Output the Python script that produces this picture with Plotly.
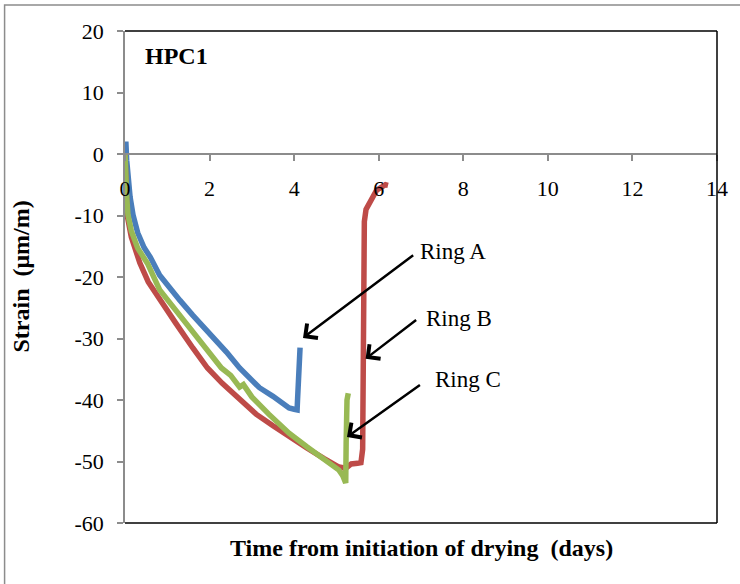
import plotly.graph_objects as go

# Ring A (blue)
ring_a_x = [0, 0.02, 0.04, 0.08, 0.12, 0.19, 0.3, 0.45, 0.6, 0.82, 1.0, 1.3, 1.6, 2.0, 2.4,
            2.71, 3.0, 3.18, 3.5, 3.7, 3.88, 4.0, 4.07, 4.08, 4.10, 4.12, 4.14]
ring_a_y = [0, 2.0, -1, -4.5, -7, -9.9, -12.8, -15.2, -16.8, -19.7, -21.3, -23.8, -26.2, -29.1, -32.2,
            -34.8, -36.6, -38.0, -39.4, -40.4, -41.3, -41.5, -41.6, -40, -34, -32, -31.5]

# Ring B (red)
ring_b_x = [0, 0.01, 0.05, 0.15, 0.35, 0.55, 0.82, 1.2, 1.6, 1.95, 2.3, 2.71, 3.1, 3.5, 3.88,
            4.3, 4.7, 5.06, 5.22, 5.35, 5.5, 5.58, 5.62, 5.63, 5.64, 5.65, 5.65, 5.66, 5.70, 5.81, 5.95, 6.16, 6.22]
ring_b_y = [0, -4, -9.9, -13.5, -17.7, -20.8, -23.7, -27.5, -31.5, -34.8, -37.3, -40.0, -42.3, -44.2, -46.0,
            -47.8, -49.5, -50.9, -51.1, -50.4, -50.3, -50.2, -48, -40, -30, -20, -13.5, -11, -9.0, -7.5, -5.9, -5.0, -5.1]

# Ring C (green)
ring_c_x = [0, 0.01, 0.04, 0.07, 0.15, 0.3, 0.54, 0.82, 1.2, 1.6, 2.0, 2.28, 2.5, 2.71, 2.8,
            3.0, 3.4, 3.88, 4.3, 4.7, 5.06, 5.15, 5.22, 5.23, 5.24, 5.25, 5.28]
ring_c_y = [0, -3, -7, -9.9, -12.5, -15.3, -17.9, -22.1, -25.5, -29.0, -32.3, -34.8, -36.0, -37.9, -37.5,
            -39.5, -42.3, -45.4, -47.6, -49.5, -51.4, -52.3, -53.5, -47, -41, -40, -38.9]

# Callout labels: (text, text_x, text_y, arrow_head_x, arrow_head_y, arrow_tail_x, arrow_tail_y)
callouts = [
    ("Ring A", 6.92, -15.9, 4.21, -29.9, 6.85, -16.3),
    ("Ring B", 7.08, -26.7, 5.69, -33.3, 6.92, -26.8),
    ("Ring C", 7.29, -36.7, 5.25, -46.0, 7.01, -37.4),
]

x_ticks = [0, 2, 4, 6, 8, 10, 12, 14]
y_ticks = [20, 10, 0, -10, -20, -30, -40, -50, -60]

FONT = "Times New Roman, Liberation Serif, serif"
FS = 24
TFS = 22
fig = go.Figure()
for xs, ys, col, name in [(ring_a_x, ring_a_y, "#4A7EBB", "Ring A"),
                          (ring_b_x, ring_b_y, "#BE4B48", "Ring B"),
                          (ring_c_x, ring_c_y, "#98B954", "Ring C")]:
    fig.add_trace(go.Scatter(x=xs, y=ys, mode="lines", name=name,
                             line=dict(color=col, width=5.5), showlegend=False))

fig.update_layout(
    width=740, height=584,
    margin=dict(l=125, r=20, t=31, b=61),
    paper_bgcolor="white", plot_bgcolor="white",
    font=dict(family=FONT, size=FS, color="black"),
    xaxis=dict(range=[0, 14], tickvals=x_ticks, ticktext=[str(v) for v in x_ticks],
               showgrid=False, zeroline=False, showline=True, linecolor="#8C8C8C", linewidth=1.5,
               ticks="outside", ticklen=6, tickcolor="#8C8C8C", tickwidth=1.5,
               anchor="free", position=0.75, ticklabelstandoff=9,
               tickfont=dict(family=FONT, size=TFS, color="black")),
    yaxis=dict(range=[-60, 20], tickvals=y_ticks, ticktext=[str(v) for v in y_ticks],
               showgrid=False, zeroline=False, showline=True, linecolor="#8C8C8C", linewidth=1.5,
               ticks="outside", ticklen=6, tickcolor="#8C8C8C", tickwidth=1.5,
               ticklabelstandoff=9,
               tickfont=dict(family=FONT, size=TFS, color="black")),
)

shapes = [
    dict(type="line", xref="paper", yref="paper", x0=0, y0=1, x1=1, y1=1, line=dict(color="black", width=1.5)),
    dict(type="line", xref="paper", yref="paper", x0=1, y0=0, x1=1, y1=1, line=dict(color="black", width=1.5)),
    dict(type="line", xref="paper", yref="paper", x0=0, y0=0, x1=1, y1=0, line=dict(color="black", width=1.5)),
    dict(type="rect", xref="paper", yref="paper", x0=-0.2034, y0=-0.14, x1=1.05, y1=1.0528,
         line=dict(color="#8C8C8C", width=1.5)),
]
fig.update_layout(shapes=shapes)

annotations = [
    dict(text="<b>HPC1</b>", xref="paper", yref="paper", x=0.030, y=0.949, xanchor="left", yanchor="middle",
         showarrow=False, font=dict(family=FONT, size=FS, color="black")),
    dict(text="<b>Time from initiation of drying  (days)</b>", xref="paper", yref="paper", x=0.5, y=-0.0508,
         xanchor="center", yanchor="middle", showarrow=False, font=dict(family=FONT, size=FS, color="black")),
    dict(text="<b>Strain  (μm/m)</b>", xref="paper", yref="paper", x=-0.1765, y=0.50, textangle=-90,
         xanchor="center", yanchor="middle", showarrow=False, font=dict(family=FONT, size=FS, color="black")),
]
for text, tx, ty, hx, hy, sx, sy in callouts:
    annotations.append(dict(text=text, x=tx, y=ty, xref="x", yref="y", xanchor="left", yanchor="middle",
                            showarrow=False, font=dict(family=FONT, size=23, color="black")))
    annotations.append(dict(text="", x=hx, y=hy, ax=sx, ay=sy, xref="x", yref="y", axref="x", ayref="y",
                            showarrow=True, arrowhead=4, arrowsize=1.4, arrowwidth=2.5, arrowcolor="black"))
fig.update_layout(annotations=annotations)

fig.write_html("out.html")
